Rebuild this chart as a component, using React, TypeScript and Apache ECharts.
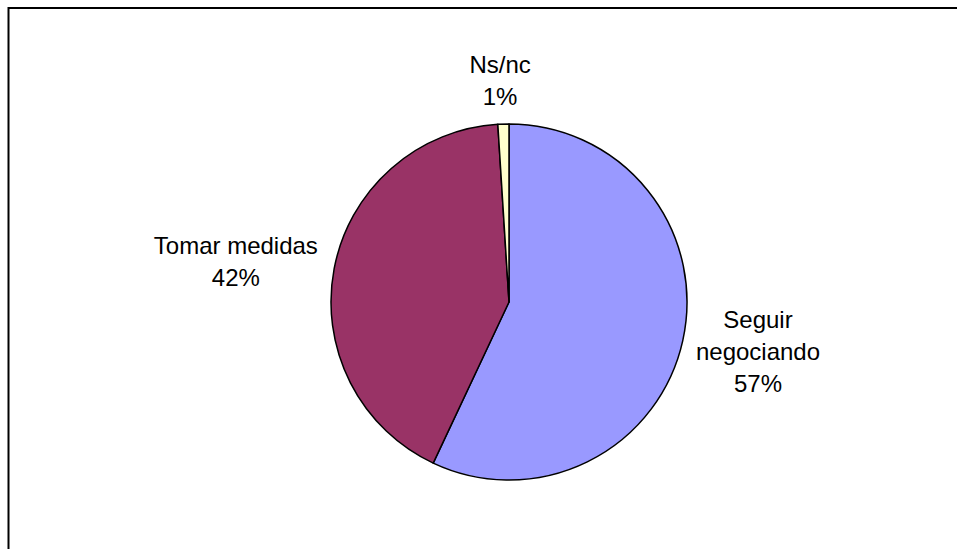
import React, { useEffect, useRef } from "react";
import * as echarts from "echarts";

const categories = ["Seguir\nnegociando", "Tomar medidas", "Ns/nc"];
const values = [57, 42, 1];
const colors = ["#9999FF", "#993366", "#FFFFCC"];

export default function App() {
  const ref = useRef<HTMLDivElement>(null);
  useEffect(() => {
    if (!ref.current) return;
    const chart = echarts.init(ref.current, null, { renderer: "svg" });
    const cx = 509;
    const cy = 302;
    const r = 178;
    const total = values.reduce((a, b) => a + b, 0);
    const mids: number[] = [];
    let acc = 0;
    values.forEach((v) => {
      mids.push(((acc + v / 2) / total) * Math.PI * 2);
      acc += v;
    });
    const gap = 11;
    // small layout nudges to match the original label placement
    const nudge: [number, number][] = [
      [2.5, -6],
      [-5.5, 11],
      [-2, -1],
    ];
    chart.setOption({
      animation: false,
      backgroundColor: "#ffffff",
      graphic: [
        {
          type: "polyline",
          shape: { points: [[8.5, 700], [8.5, 8], [1100, 8]] },
          style: { stroke: "#000", lineWidth: 2, fill: "none" },
          silent: true,
        },
      ],
      series: [
        {
          type: "pie",
          center: [cx, cy],
          radius: r,
          startAngle: 90,
          clockwise: true,
          data: categories.map((name, i) => ({
            name,
            value: values[i],
            itemStyle: { color: colors[i] },
          })),
          itemStyle: { borderColor: "#000", borderWidth: 1.5 },
          label: {
            show: true,
            position: "outside",
            formatter: (p: any) => `${p.name}\n${p.value}%`,
            fontFamily: "Liberation Sans, Arial, sans-serif",
            fontSize: 24,
            lineHeight: 32,
            color: "#000",
            align: "center",
          },
          labelLine: { show: false },
          emphasis: { disabled: true },
          labelLayout: (params: any) => {
            const i = params.dataIndex;
            const a = mids[i];
            const ux = Math.sin(a);
            const uy = -Math.cos(a);
            const w = params.labelRect.width;
            const h = params.labelRect.height;
            const ex = Math.abs(ux) > 1e-6 ? w / 2 / Math.abs(ux) : Infinity;
            const ey = Math.abs(uy) > 1e-6 ? h / 2 / Math.abs(uy) : Infinity;
            const d = r + gap + Math.min(ex, ey);
            return {
              x: cx + d * ux + nudge[i][0],
              y: cy + d * uy + nudge[i][1],
              align: "center",
              verticalAlign: "middle",
            };
          },
        },
      ],
    });
    return () => chart.dispose();
  }, []);
  return (
    <div
      ref={ref}
      style={{ position: "fixed", left: 0, top: 0, width: 957, height: 549 }}
    />
  );
}
